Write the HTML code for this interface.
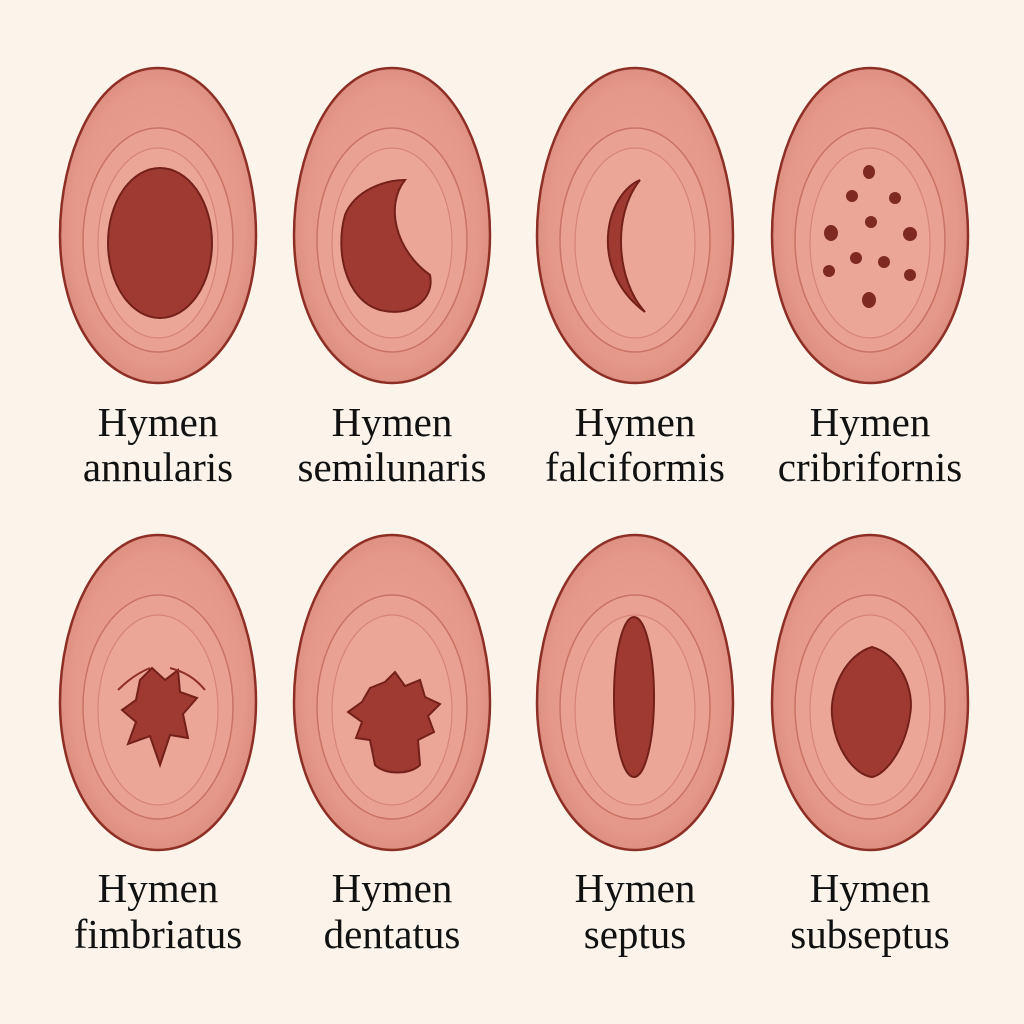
<!DOCTYPE html>
<html><head><meta charset="utf-8"><style>
html,body{margin:0;padding:0;background:#fcf4ea;}
svg{display:block}
text{font-family:"Liberation Serif",serif;font-size:41px;fill:#111;text-anchor:middle}
</style></head><body>
<svg width="1024" height="1024" viewBox="0 0 1024 1024" xmlns="http://www.w3.org/2000/svg">
<defs>
<radialGradient id="g" cx="50%" cy="50%" r="55%">
<stop offset="0" stop-color="#eba497"/><stop offset="0.8" stop-color="#e4988a"/><stop offset="1" stop-color="#d9887b"/>
</radialGradient>
<g id="egg">
<path d="M0,-157 C62,-157 98,-70 98,10 C98,95 55,158 0,158 C-55,158 -98,95 -98,10 C-98,-70 -62,-157 0,-157Z" fill="url(#g)" stroke="#8e2f26" stroke-width="2.5"/>
<ellipse cx="0" cy="15" rx="75" ry="112" fill="#e9a194" stroke="#c97366" stroke-width="1.5"/>
<ellipse cx="0" cy="18" rx="60" ry="95" fill="#eca698" stroke="#d58477" stroke-width="1.2"/>
</g>
</defs>
<g fill="#9e3a31" stroke="#74201a" stroke-width="2">
<use href="#egg" x="158" y="225"/>
<ellipse cx="160" cy="243" rx="52" ry="75"/>
<use href="#egg" x="392" y="225"/>
<path d="M405,180 C385,205 395,250 430,275 C435,300 410,318 380,310 C345,300 335,250 345,215 C355,190 385,180 405,180Z"/>
<use href="#egg" x="635" y="225"/>
<path d="M640,180 C605,195 588,270 645,312 C616,280 612,215 640,180Z"/>
<use href="#egg" x="870" y="225"/>
<g stroke="none" fill="#7e2a22">
<ellipse cx="869" cy="172" rx="6" ry="7"/><ellipse cx="852" cy="196" rx="6" ry="6"/><ellipse cx="895" cy="198" rx="6" ry="6"/>
<ellipse cx="871" cy="222" rx="6" ry="6"/><ellipse cx="831" cy="233" rx="7" ry="8"/><ellipse cx="910" cy="234" rx="7" ry="7"/>
<ellipse cx="856" cy="258" rx="6" ry="6"/><ellipse cx="884" cy="262" rx="6" ry="6"/><ellipse cx="829" cy="271" rx="6" ry="6"/>
<ellipse cx="910" cy="275" rx="6" ry="6"/><ellipse cx="869" cy="300" rx="7" ry="8"/>
</g>
<use href="#egg" x="158" y="692"/>
<path d="M140,680 L152,668 L165,680 L178,670 L180,692 L197,698 L183,714 L188,738 L170,735 L160,765 L150,736 L128,744 L136,722 L122,710 L136,700Z"/>
<path d="M118,690 C130,678 140,672 150,668 M170,668 C185,672 195,678 205,690" fill="none" stroke="#8e2f26"/>
<use href="#egg" x="392" y="692"/>
<path d="M370,688 L385,682 L395,672 L405,686 L420,680 L425,697 L440,704 L428,716 L434,732 L418,740 L420,765 C410,775 385,775 375,765 L370,740 L356,738 L362,722 L348,712 L362,702Z"/>
<use href="#egg" x="635" y="692"/>
<ellipse cx="634" cy="697" rx="20" ry="80"/>
<use href="#egg" x="870" y="692"/>
<path d="M872,647 C900,655 915,690 910,715 C905,750 885,775 872,777 C855,775 835,750 832,715 C830,690 845,655 872,647Z"/>
</g>
<text x="158" y="436">Hymen</text><text x="158" y="481">annularis</text>
<text x="392" y="436">Hymen</text><text x="392" y="481">semilunaris</text>
<text x="635" y="436">Hymen</text><text x="635" y="481">falciformis</text>
<text x="870" y="436">Hymen</text><text x="870" y="481">cribrifornis</text>
<text x="158" y="902">Hymen</text><text x="158" y="948">fimbriatus</text>
<text x="392" y="902">Hymen</text><text x="392" y="948">dentatus</text>
<text x="635" y="902">Hymen</text><text x="635" y="948">septus</text>
<text x="870" y="902">Hymen</text><text x="870" y="948">subseptus</text>
</svg>
</body></html>
